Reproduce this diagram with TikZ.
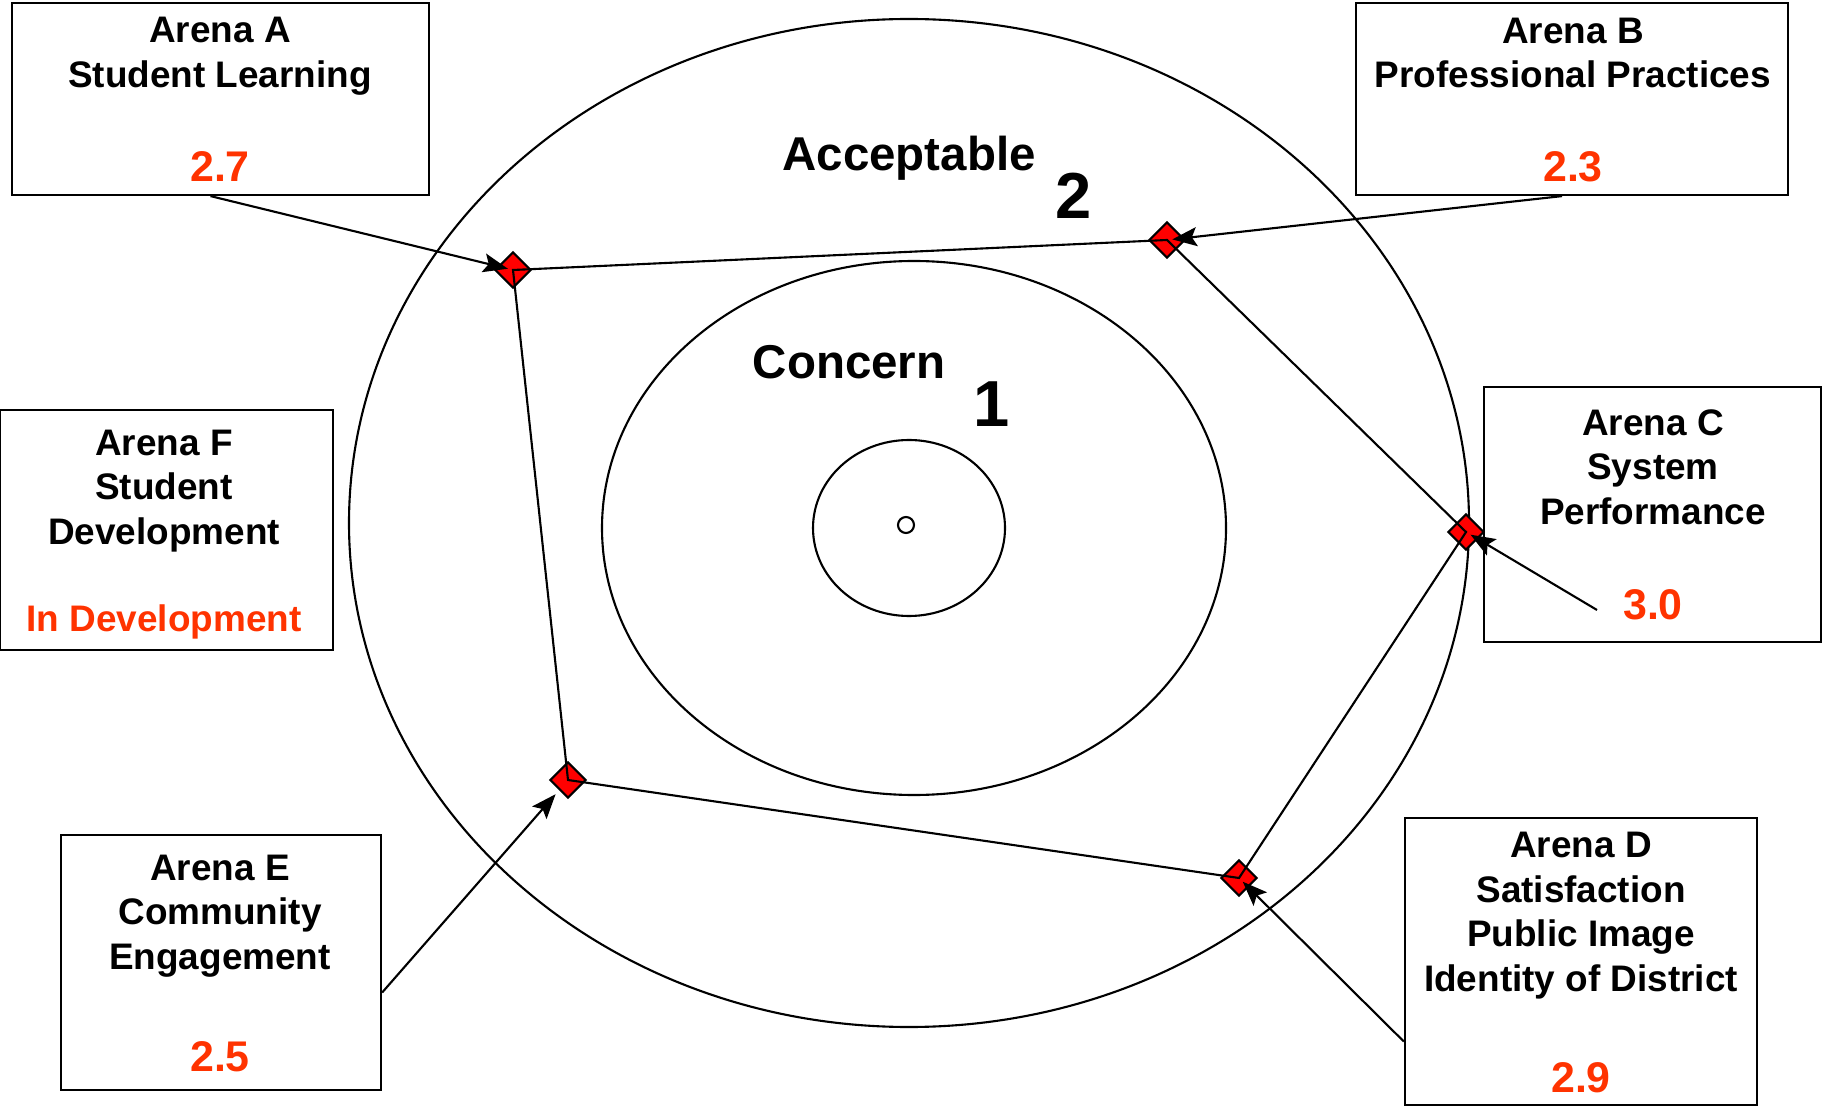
\documentclass[tikz,border=0pt]{standalone}
\usepackage{fontspec}
\setmainfont{Liberation Sans}
\usetikzlibrary{arrows.meta}
\definecolor{valred}{RGB}{255,51,0}

\tikzset{
	arena/.style={draw, line width=0.6pt, inner sep=0pt},
	ttl/.style={font=\fontsize{10.5}{12.7}\selectfont\bfseries, align=center, inner sep=0pt},
	val/.style={ttl, text=valred},
	bigval/.style={val, font=\fontsize{12.2}{14}\selectfont\bfseries},
	ring/.style={line width=0.6pt},
	level/.style={font=\fontsize{13.5}{16}\selectfont\bfseries, inner sep=0pt},
	levelnum/.style={font=\fontsize{18.5}{20}\selectfont\bfseries, inner sep=0pt},
	marker/.style={draw, fill=red, rectangle, minimum size=0.25cm, inner sep=0pt, rotate=45, line width=0.6pt},
	link/.style={line width=0.6pt},
	pointer/.style={line width=0.6pt, shorten >=1.5pt, -{Stealth[length=7pt,width=5.4pt,inset=1.4pt]}}
}

\begin{document}
\begin{tikzpicture}[x=0.01cm,y=-0.01cm]
				\useasboundingbox (0,0) rectangle (1828,1110);
				
				% Draw the target rings
				\draw[ring] (909,523) ellipse [x radius=560, y radius=504];
				\draw[ring] (914,528) ellipse [x radius=312, y radius=267];
				\draw[ring] (909,528) ellipse [x radius=96, y radius=88];
				\draw[ring] (906,525) circle [radius=8];
				
				% Ring labels
				\node[level] (acc) at (909,158) {Acceptable};
				\node[levelnum] (two) at (1074,196) {2};
				\node[level] (con) at (849,362) {Concern};
				\node[levelnum] (one) at (992,404) {1};
				
				% Arena boxes
				\node[arena, minimum width=4.17cm, minimum height=1.92cm] (boxA) at (220.5,99) {};
				\node[arena, minimum width=4.32cm, minimum height=1.92cm] (boxB) at (1572,99) {};
				\node[arena, minimum width=3.37cm, minimum height=2.55cm] (boxC) at (1652.5,514.5) {};
				\node[arena, minimum width=3.33cm, minimum height=2.40cm] (boxF) at (166.5,530) {};
				\node[arena, minimum width=3.20cm, minimum height=2.55cm] (boxE) at (221,962.5) {};
				\node[arena, minimum width=3.52cm, minimum height=2.87cm] (boxD) at (1581,961.5) {};
				
				% Box texts
				\node[ttl] (ttlA) at (220,56) {Arena A\\Student Learning};
				\node[bigval] (valA) at (220,167) {2.7};
				\node[ttl] (ttlB) at (1573,53) {Arena B\\Professional Practices};
				\node[bigval] (valB) at (1573,167) {2.3};
				\node[ttl] (ttlC) at (1653,467) {Arena C\\System\\Performance};
				\node[bigval] (valC) at (1653,605) {3.0};
				\node[ttl] (ttlF) at (164,491) {Arena F\\Student\\Development};
				\node[val] (valF) at (164,622) {In Development};
				\node[ttl] (ttlE) at (220,916) {Arena E\\Community\\Engagement};
				\node[bigval] (valE) at (220,1057) {2.5};
				\node[ttl] (ttlD) at (1581,915.5) {Arena D\\Satisfaction\\Public Image\\Identity of District};
				\node[bigval] (valD) at (1581,1078) {2.9};
				
				% Place the score markers
				\node[marker] (m1) at (513,270) {};
				\node[marker] (m2) at (1167,240) {};
				\node[marker] (m3) at (1466,532) {};
				\node[marker] (m4) at (568,780) {};
				\node[marker] (m5) at (1239,878) {};
				
				% Join the markers
				\draw[link] (m1.center) -- (m2.center) -- (m3.center) -- (m5.center) -- (m4.center) -- cycle;
				
				% Draw the pointers from the boxes
				\coordinate (cStart) at (1597,610);
				\draw[pointer] ([xshift=-0.1cm]boxA.south) -- (m1.center);
				\draw[pointer] ([xshift=-0.1cm]boxB.south) -- (m2.center);
				\draw[pointer] (cStart) -- (m3.center);
				\draw[pointer] ([yshift=-0.3cm]boxE.east) -- (m4);
				\draw[pointer] ([yshift=-0.8cm]boxD.west) -- (m5.center);
			\end{tikzpicture}
\end{document}
